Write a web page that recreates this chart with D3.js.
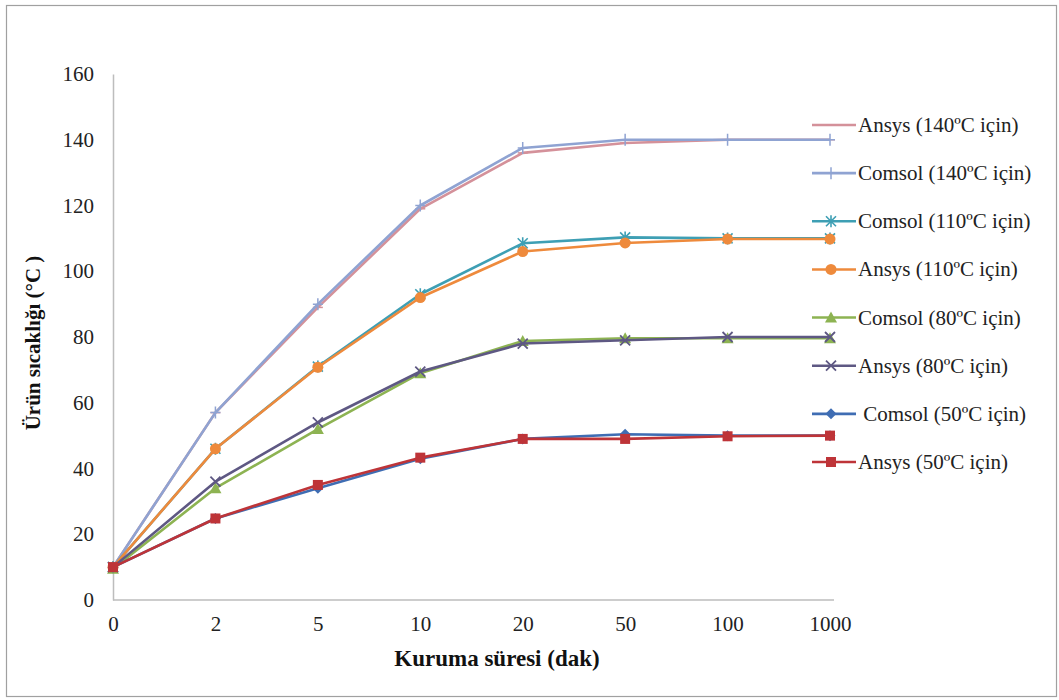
<!DOCTYPE html>
<html>
<head>
<meta charset="utf-8">
<script src="https://cdn.jsdelivr.net/npm/d3@7"></script>
<style>
  body { margin: 0; background: #fff; }
</style>
</head>
<body>
<div id="chart"></div>
<script>
// --- datos ---
const categories = ["0", "2", "5", "10", "20", "50", "100", "1000"];
const yTicks = [0, 20, 40, 60, 80, 100, 120, 140, 160];

const ansys140  = [10, 57, 89, 119, 136, 139, 140, 140];
const comsol140 = [10, 57, 90, 120, 137.5, 140, 140, 140];
const comsol110 = [10, 46, 71, 93, 108.5, 110.3, 110, 110];
const ansys110  = [10, 46, 70.8, 92, 106, 108.6, 109.8, 109.8];
const comsol80  = [9.5, 34, 52, 69, 78.8, 79.6, 79.6, 79.6];
const ansys80   = [10, 36, 54, 69.5, 78, 79, 80, 80];
const comsol50  = [10, 24.8, 34, 43, 49, 50.4, 50, 50];
const ansys50   = [10, 24.8, 35, 43.3, 49, 49, 49.8, 50];

const seriesNames = [
  "Ansys (140ºC için)", "Comsol (140ºC için)", "Comsol (110ºC için)", "Ansys (110ºC için)",
  "Comsol (80ºC için)", "Ansys (80ºC için)", " Comsol (50ºC için)", "Ansys (50ºC için)"
];
const seriesValues = [ansys140, comsol140, comsol110, ansys110, comsol80, ansys80, comsol50, ansys50];
const seriesColors = ["#D4919A", "#8FA3D2", "#3E9FB4", "#EE8A3C", "#8DB352", "#5E5883", "#3F6DB3", "#BE3438"];
const seriesMarkers = ["dash", "plus", "star", "circle", "triangle", "cross", "diamond", "square"];

const FONT = "'Liberation Serif', 'Times New Roman', Times, serif";
const W = 1059, H = 700;
const svg = d3.select("#chart").append("svg").attr("width", W).attr("height", H);

// marco exterior
svg.append("rect").attr("x", 6.5).attr("y", 5.5).attr("width", 1050).attr("height", 691)
  .attr("fill", "none").attr("stroke", "#a0a0a0").attr("stroke-width", 1.2);

const x = d3.scalePoint().domain(categories).range([113, 830]).padding(0);
const y = d3.scaleLinear().domain([0, 160]).range([600, 74]);

// ejes
const gx = svg.append("g").attr("transform", "translate(0,600)")
  .call(d3.axisBottom(x).tickSize(0).tickPadding(16));
gx.select(".domain").attr("d", "M113,0H834").attr("stroke", "#bdbdbd").attr("stroke-width", 1.5);
gx.selectAll("text").style("font-family", FONT).style("font-size", "21px").attr("fill", "#222");

const gy = svg.append("g").attr("transform", "translate(113,0)")
  .call(d3.axisLeft(y).tickValues(yTicks).tickSize(0).tickPadding(19));
gy.select(".domain").attr("stroke", "#bdbdbd").attr("stroke-width", 1.5);
gy.selectAll("text").style("font-family", FONT).style("font-size", "21px").attr("fill", "#222");

// titulos de ejes
svg.append("text").attr("x", 497).attr("y", 666).attr("text-anchor", "middle")
  .style("font-family", FONT).style("font-size", "23px").style("font-weight", "bold").attr("fill", "#111")
  .text("Kuruma süresi (dak)");
svg.append("text").attr("transform", "translate(40,343) rotate(-90)").attr("text-anchor", "middle")
  .style("font-family", FONT).style("font-size", "21px").style("font-weight", "bold").attr("fill", "#111")
  .text("Ürün sıcaklığı (°C )");

// marcadores
function drawMarker(g, type, cx, cy, color) {
  const s = 5;
  if (type === "square") {
    g.append("rect").attr("x", cx - s).attr("y", cy - s).attr("width", 2 * s).attr("height", 2 * s).attr("fill", color);
  } else if (type === "circle") {
    g.append("circle").attr("cx", cx).attr("cy", cy).attr("r", s + 0.5).attr("fill", color);
  } else if (type === "diamond") {
    g.append("path").attr("d", `M${cx},${cy - 5.5}L${cx + 5.5},${cy}L${cx},${cy + 5.5}L${cx - 5.5},${cy}Z`).attr("fill", color);
  } else if (type === "triangle") {
    g.append("path").attr("d", `M${cx},${cy - 6}L${cx + 6},${cy + 5}L${cx - 6},${cy + 5}Z`).attr("fill", color);
  } else if (type === "cross") {
    g.append("path").attr("d", `M${cx - s},${cy - s}L${cx + s},${cy + s}M${cx - s},${cy + s}L${cx + s},${cy - s}`)
      .attr("stroke", color).attr("stroke-width", 1.8);
  } else if (type === "star") {
    g.append("path").attr("d", `M${cx - s},${cy - s}L${cx + s},${cy + s}M${cx - s},${cy + s}L${cx + s},${cy - s}M${cx},${cy - s - 1}V${cy + s + 1}`)
      .attr("stroke", color).attr("stroke-width", 1.6);
  } else if (type === "plus") {
    g.append("path").attr("d", `M${cx - s},${cy}H${cx + s}M${cx},${cy - s - 1}V${cy + s + 1}`)
      .attr("stroke", color).attr("stroke-width", 1.5);
  } else if (type === "dash") {
    g.append("path").attr("d", `M${cx - s},${cy}H${cx + s}`).attr("stroke", color).attr("stroke-width", 1.5);
  }
}

const line = d3.line().x((d, i) => x(categories[i])).y(d => y(d));

seriesValues.forEach((vals, k) => {
  const g = svg.append("g");
  g.append("path").datum(vals).attr("fill", "none").attr("stroke", seriesColors[k])
    .attr("stroke-width", 2.6).attr("stroke-linejoin", "round").attr("d", line);
  vals.forEach((v, i) => drawMarker(g, seriesMarkers[k], x(categories[i]), y(v), seriesColors[k]));
});

// leyenda
const legendY = d3.scaleLinear().domain([0, 7]).range([125, 462]);
seriesNames.forEach((name, k) => {
  const g = svg.append("g");
  const ly = legendY(k);
  g.append("line").attr("x1", 812).attr("x2", 856).attr("y1", ly).attr("y2", ly)
    .attr("stroke", seriesColors[k]).attr("stroke-width", 2.6);
  drawMarker(g, seriesMarkers[k], 831, ly, seriesColors[k]);
  g.append("text").attr("x", 858).attr("y", ly + 7)
    .style("font-family", FONT).style("font-size", "21px").attr("fill", "#222")
    .style("white-space", "pre").attr("xml:space", "preserve").text(name);
});
</script>
</body>
</html>
